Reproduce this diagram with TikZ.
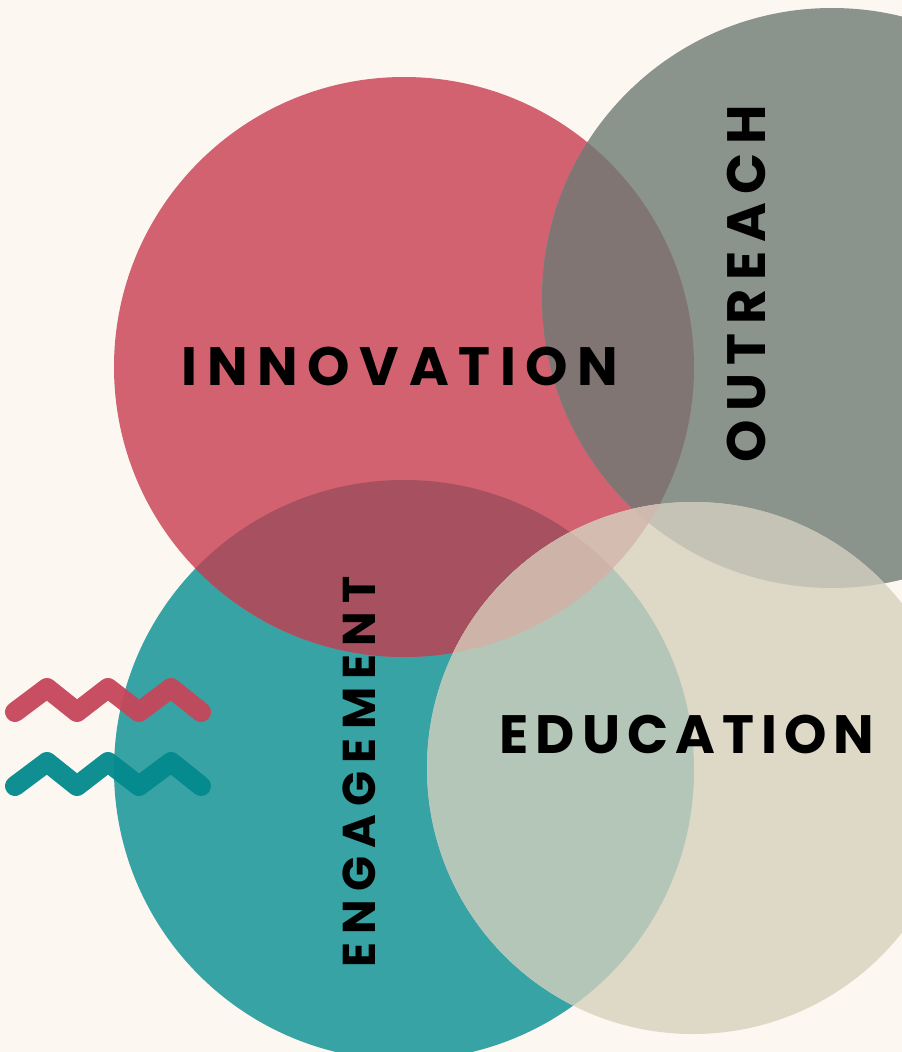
\documentclass[tikz,border=0pt]{standalone}
\usepackage{fontspec}
\setmainfont{Poppins}
\usepackage{xcolor}

\definecolor{paper}{HTML}{FDF7F2}
\definecolor{roseC}{HTML}{D26270}
\definecolor{tealC}{HTML}{38A3A5}
\definecolor{sageC}{HTML}{8A948C}
\definecolor{sandC}{HTML}{DED8C7}
\definecolor{roseTeal}{HTML}{A65060}
\definecolor{roseSage}{HTML}{817573}
\definecolor{sandTeal}{HTML}{B4C6B8}
\definecolor{sandRose}{HTML}{D5BCB1}
\definecolor{sandRoseTeal}{HTML}{CDB3A8}
\definecolor{sandSage}{HTML}{C5C3B5}
\definecolor{sandSageRose}{HTML}{CFB9AE}
\definecolor{zigRose}{HTML}{C5465A}
\definecolor{zigTeal}{HTML}{038A8C}

\newcommand{\roseDisc}{(404,367) circle[radius=290pt]}
\newcommand{\tealDisc}{(404,770) circle[radius=290pt]}
\newcommand{\sageDisc}{(832,298) circle[radius=290pt]}
\newcommand{\sandDisc}{(693,768) circle[radius=266pt]}

\begin{document}
\begin{tikzpicture}[
    x=1pt, y=-1pt,
    word/.style={text=black, inner sep=0pt},
    bigword/.style={word, font=\bfseries\fontsize{54}{54}\selectfont},
    smallword/.style={word, font=\bfseries\fontsize{46}{46}\selectfont},
    zigzag/.style={line width=20pt, line cap=round, line join=round, opacity=0.95}
]
    % Background
    \useasboundingbox[fill=paper] (0,0) rectangle (902,1052);

    % Circles
    \fill[tealC] \tealDisc;
    \fill[roseC] \roseDisc;
    \begin{scope}
        \clip \roseDisc;
        \fill[roseTeal] \tealDisc;
    \end{scope}
    \fill[sageC] \sageDisc;
    \begin{scope}
        \clip \sageDisc;
        \fill[roseSage] \roseDisc;
    \end{scope}
    \fill[sandC] \sandDisc;
    \begin{scope}
        \clip \sandDisc;
        \fill[sandTeal] \tealDisc;
        \fill[sandRose] \roseDisc;
        \fill[sandSage] \sageDisc;
    \end{scope}
    \begin{scope}
        \clip \sandDisc;
        \clip \roseDisc;
        \fill[sandRoseTeal] \tealDisc;
    \end{scope}
    \begin{scope}
        \clip \sandDisc;
        \clip \sageDisc;
        \fill[sandSageRose] \roseDisc;
    \end{scope}

    % Zigzags
    \draw[zigzag, zigRose] (15,712) -- (47,688) -- (77,712) -- (108,688) -- (139,712) -- (171,688) -- (201,712);
    \draw[zigzag, zigTeal] (15,786) -- (47,762) -- (77,786) -- (108,762) -- (139,786) -- (171,762) -- (201,786);

    % Labels
    \node[bigword] (innovation) at (400,366) {\addfontfeature{LetterSpace=18}INNOVATION};
    \node[bigword, rotate=90] (outreach) at (746,284) {\addfontfeature{LetterSpace=16}OUTREACH};
    \node[smallword, rotate=90] (engagement) at (359,772) {\addfontfeature{LetterSpace=18}ENGAGEMENT};
    \node[bigword] (education) at (687,734) {\addfontfeature{LetterSpace=13}EDUCATION};
\end{tikzpicture}
\end{document}
